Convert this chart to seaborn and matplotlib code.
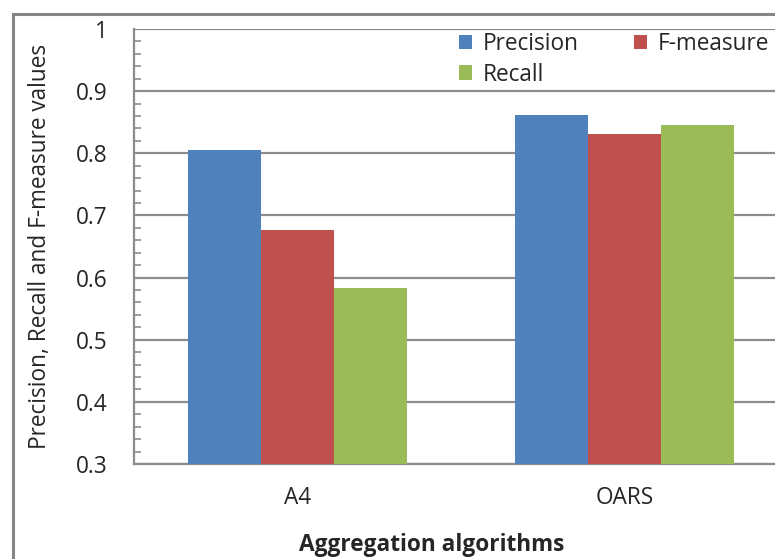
import matplotlib
matplotlib.use("Agg")
import matplotlib.pyplot as plt
from matplotlib.patches import Rectangle
from matplotlib.ticker import MultipleLocator
import seaborn as sns
import pandas as pd

categories = ["A4", "OARS"]
series = ["Precision", "F-measure", "Recall"]
precision = [0.806, 0.862]
f_measure = [0.677, 0.831]
recall = [0.583, 0.846]
colors = ["#4F81BD", "#C0504D", "#9BBB59"]

rows = []
for name, vals in zip(series, [precision, f_measure, recall]):
    for c, v in zip(categories, vals):
        rows.append({"Algorithm": c, "Metric": name, "Value": v})
df = pd.DataFrame(rows)

sns.set_style("white")
plt.rcParams["font.family"] = ["Open Sans", "DejaVu Sans"]
FS = 16.3

W, H = 775, 559
AX_L, AX_R, AX_T, AX_B = 134, 788, 29, 464
fig = plt.figure(figsize=(W / 100, H / 100), dpi=100)
ax = fig.add_axes([AX_L / W, 1 - AX_B / H, (AX_R - AX_L) / W, (AX_B - AX_T) / H])

sns.barplot(data=df, x="Algorithm", y="Value", hue="Metric", order=categories,
            hue_order=series, palette=colors, width=0.667, saturation=1,
            linewidth=0, ax=ax, zorder=3)

ax.set_xlim(-0.5, 1.5)
ax.set_ylim(0.3, 1.0)
ax.yaxis.set_minor_locator(MultipleLocator(0.02))
ax.set_yticks([0.3, 0.4, 0.5, 0.6, 0.7, 0.8, 0.9, 1.0])
ax.set_yticklabels(["0.3", "0.4", "0.5", "0.6", "0.7", "0.8", "0.9", "1"])
gc = "#8C8C8C"
ax.grid(axis="y", which="major", color=gc, linewidth=1.6, zorder=0)
ax.set_axisbelow(True)

# x ticks at category boundaries, labels at centers
ax.set_xticks([-0.5, 0.5, 1.5])
ax.set_xticklabels([])
ax.set_xticks([0, 1], minor=True)
ax.set_xticklabels(categories, minor=True)
ax.tick_params(axis="x", which="major", direction="out", length=7, width=1.2, color=gc)
ax.tick_params(axis="x", which="minor", length=0, pad=16, labelsize=FS)
ax.tick_params(axis="y", which="major", length=0, pad=19, labelsize=FS)
ax.tick_params(axis="y", which="minor", direction="in", length=5, width=1.2, color=gc, left=True)

for s in ["top", "right"]:
    ax.spines[s].set_visible(False)
for s in ["left", "bottom"]:
    ax.spines[s].set_color(gc)
    ax.spines[s].set_linewidth(1.6)

aw, ah = AX_R - AX_L, AX_B - AX_T
ax.set_ylabel("Precision, Recall and F-measure values", fontsize=FS)
ax.yaxis.set_label_coords((40 - AX_L) / aw, 0.5)
ax.yaxis.label.set_verticalalignment("center")
ax.set_xlabel("Aggregation algorithms", fontsize=FS, fontweight="bold")
ax.xaxis.set_label_coords((432 - AX_L) / aw, (AX_B - 545) / ah)
ax.xaxis.label.set_verticalalignment("center")

handles, labels = ax.get_legend_handles_labels()
hmap = dict(zip(labels, handles))
order = ["Precision", "Recall", "F-measure"]
ax.legend([hmap[k] for k in order], order, ncol=2, frameon=False,
          loc="upper left", bbox_to_anchor=((445 - AX_L) / aw, 1.025),
          fontsize=FS, handlelength=0.6, handleheight=0.6, handletextpad=0.45,
          columnspacing=2.45, labelspacing=0.3, borderaxespad=0.2)

fig.patches.append(Rectangle((13.5 / W, -0.2), 1.3, 1.2 - 13.5 / H,
                             transform=fig.transFigure, fill=False,
                             edgecolor="#868686", linewidth=2.2, clip_on=False))

fig.savefig("out.png", dpi=100)
